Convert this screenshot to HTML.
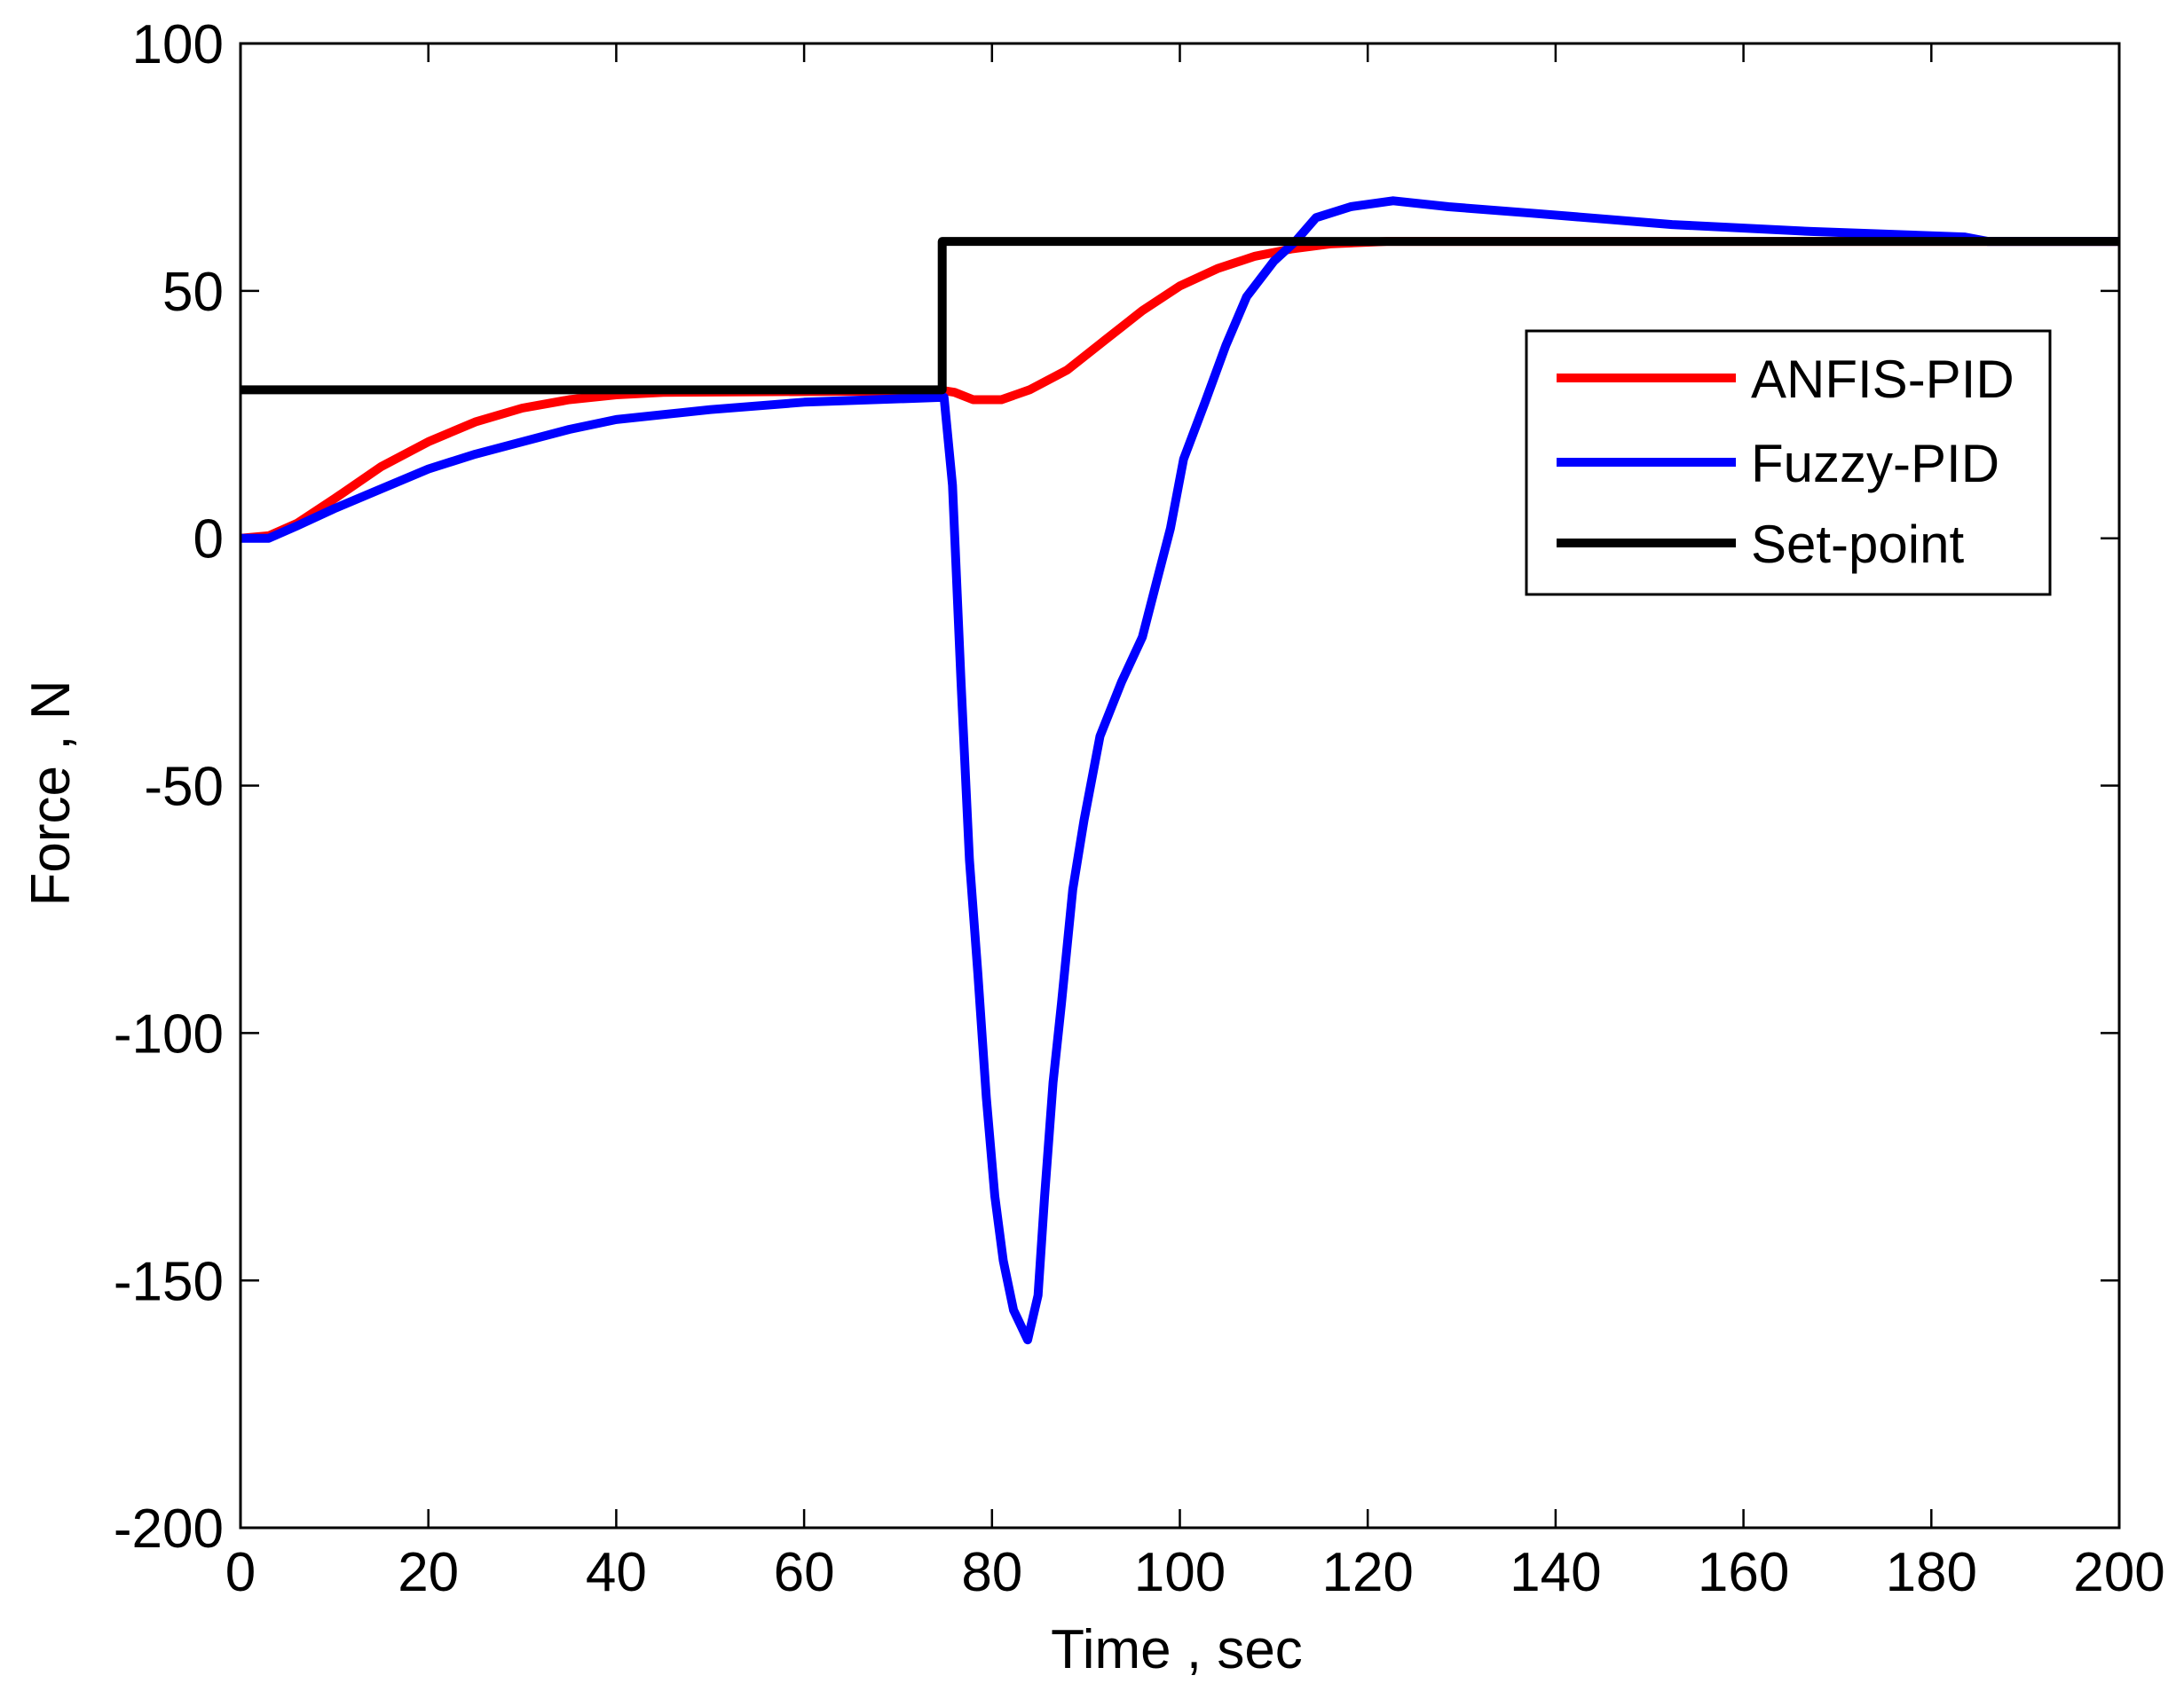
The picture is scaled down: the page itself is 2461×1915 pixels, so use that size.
<!DOCTYPE html>
<html><head><meta charset="utf-8"><style>
html,body{margin:0;padding:0;background:#fff;}
svg{display:block;}
text{font-family:"Liberation Sans",Arial,sans-serif;fill:#000;}
</style></head><body>
<svg id="s" width="2461" height="1915" viewBox="0 0 2461 1915" xmlns="http://www.w3.org/2000/svg">
<rect width="2461" height="1915" fill="#fff"/>
<g id="ticks"></g>
<g id="lines" fill="none" stroke-linejoin="round"></g>
<rect x="271" y="49" width="2117" height="1673" fill="none" stroke="#000" stroke-width="3"/>
<text x="1326" y="1880" font-size="62" text-anchor="middle">Time , sec</text>
<text transform="translate(78,894) rotate(-90)" font-size="62" text-anchor="middle">Force , N</text>
<rect x="1720" y="373" width="590" height="297" fill="#fff" stroke="#000" stroke-width="3"/>
<line x1="1754" y1="426" x2="1956" y2="426" stroke="#ff0000" stroke-width="10"/>
<line x1="1754" y1="521" x2="1956" y2="521" stroke="#0000ff" stroke-width="10"/>
<line x1="1754" y1="612" x2="1956" y2="612" stroke="#000" stroke-width="10"/>
<text x="1973" y="448" font-size="60">ANFIS-PID</text>
<text x="1973" y="543" font-size="60">Fuzzy-PID</text>
<text x="1973" y="634" font-size="60">Set-point</text>
</svg>
<script>
var X=function(t){return 271+t*10.585;},Y=function(v){return 606.7-v*5.577;};
var ns="http://www.w3.org/2000/svg";
function el(p,n,a,txt){var e=document.createElementNS(ns,n);for(var k in a)e.setAttribute(k,a[k]);if(txt!==undefined)e.textContent=txt;p.appendChild(e);return e;}
var tk=document.getElementById('ticks');
for(var t=0;t<=200;t+=20){var x=X(t);
 el(tk,'line',{x1:x,y1:1722,x2:x,y2:1701,stroke:'#000','stroke-width':2.5});
 el(tk,'line',{x1:x,y1:49,x2:x,y2:70,stroke:'#000','stroke-width':2.5});
 el(tk,'text',{x:x,y:1793,'font-size':62,'text-anchor':'middle'},t);}
for(var v=-200;v<=100;v+=50){var y=Y(v);
 el(tk,'line',{x1:271,y1:y,x2:292,y2:y,stroke:'#000','stroke-width':2.5});
 el(tk,'line',{x1:2388,y1:y,x2:2367,y2:y,stroke:'#000','stroke-width':2.5});
 el(tk,'text',{x:252,y:y+22,'font-size':62,'text-anchor':'end'},v);}
function path(pts,col){var d=pts.map(function(p,i){return (i?'L':'M')+X(p[0]).toFixed(1)+' '+Y(p[1]).toFixed(1);}).join(' ');
 el(document.getElementById('lines'),'path',{d:d,stroke:col,'stroke-width':10});}
path([[0,0],[3,0.5],[6,3],[10,8],[15,14.5],[20,19.5],[25,23.5],[30,26.3],[35,28],[40,29],[45,29.5],[75,29.8],[76,29.5],[78,28],[81,28],[84,30],[88,34],[92,40],[96,46],[100,51],[104,54.5],[108,57],[112,58.5],[116,59.5],[122,60],[200,60]],'#ff0000');
path([[0,0],[3,0],[6,2.5],[10,6],[15,10],[20,14],[25,17],[30,19.5],[35,22],[40,24],[50,26],[60,27.5],[74.9,28.5],[75.8,10.7],[76.7,-29],[77.6,-65],[78.5,-88],[79.4,-113],[80.3,-133],[81.2,-146],[82.3,-156],[83.8,-162],[84.9,-153],[85.6,-133],[86.5,-110],[87.4,-94],[88.6,-71],[89.8,-57],[91.5,-40],[93.8,-29],[96,-20],[97.5,-9],[99,2],[100.4,16],[102.7,27.6],[104.9,39],[107.1,48.8],[110,56],[112.3,60],[114.5,64.8],[118.2,67],[122.7,68.2],[128.6,67],[137.5,65.7],[152.4,63.4],[167.2,62],[183.5,60.9],[186,60],[200,60]],'#0000ff');
path([[0,30],[74.7,30],[74.7,60],[200,60]],'#000000');
</script>
</body></html>
